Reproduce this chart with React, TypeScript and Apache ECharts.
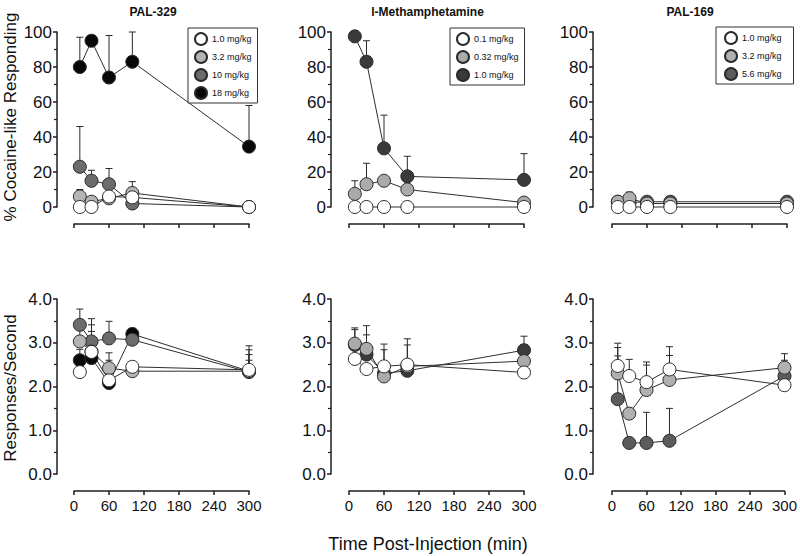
import React, { useEffect, useRef } from 'react';
import * as echarts from 'echarts';

// ---------------- data ----------------
const times = [10, 30, 60, 100, 300];
const xTickValues = [0, 60, 120, 180, 240, 300];
const panelTitles = ['PAL-329', 'l-Methamphetamine', 'PAL-169'];
const yTitleTop = '% Cocaine-like Responding';
const yTitleBottom = 'Responses/Second';
const xTitle = 'Time Post-Injection (min)';

// PAL-329
const pal329Doses = ['1.0 mg/kg', '3.2 mg/kg', '10 mg/kg', '18 mg/kg'];
const pal329Pct_1 = [0, 0, 6, 5.5, 0];
const pal329Pct_3 = [6, 3, 5, 8, 0];
const pal329Pct_10 = [23, 15, 13, 2, 0];
const pal329Pct_18 = [80, 95, 74, 83, 34.5];
const pal329PctErr_1 = [null, null, null, null, null];
const pal329PctErr_3 = [10, null, null, 14.5, null];
const pal329PctErr_10 = [46, 21, 22, null, null];
const pal329PctErr_18 = [97, null, 98, 100, 58];
const pal329Rate_1 = [2.33, 2.79, 2.14, 2.45, 2.38];
const pal329Rate_3 = [3.03, 2.8, 2.42, 2.35, 2.35];
const pal329Rate_10 = [3.41, 3.03, 3.1, 3.07, 2.33];
const pal329Rate_18 = [2.6, 2.65, 2.08, 3.2, 2.35];
const pal329RateErr_1 = [null, null, null, null, 2.6];
const pal329RateErr_3 = [3.3, 3.26, 2.77, null, 2.84];
const pal329RateErr_10 = [3.77, 3.55, 3.49, 3.2, 2.93];
const pal329RateErr_18 = [2.85, 3.41, 2.6, 3.33, 2.73];

// l-Methamphetamine
const methDoses = ['0.1 mg/kg', '0.32 mg/kg', '1.0 mg/kg'];
const methPct_01 = [0, 0, 0, 0, 0];
const methPct_032 = [7.5, 13, 15, 10, 2.5];
const methPct_1 = [97.5, 83, 33.5, 17.5, 15.5];
const methPctErr_01 = [null, null, null, null, null];
const methPctErr_032 = [15, 25, null, null, null];
const methPctErr_1 = [null, 95, 52.5, 29, 30.5];
const methRate_01 = [2.63, 2.4, 2.46, 2.5, 2.32];
const methRate_032 = [2.98, 2.86, 2.23, 2.46, 2.58];
const methRate_1 = [2.95, 2.73, 2.3, 2.36, 2.83];
const methRateErr_01 = [null, null, null, null, null];
const methRateErr_032 = [3.3, 3.39, 2.84, 3.09, 2.96];
const methRateErr_1 = [3.34, 3.18, 2.97, 2.95, 3.15];

// PAL-169
const pal169Doses = ['1.0 mg/kg', '3.2 mg/kg', '5.6 mg/kg'];
const pal169Pct_1 = [0, 0, 0, 0, 0];
const pal169Pct_3 = [3, 5, 2, 2, 2];
const pal169Pct_56 = [3, 2.5, 3, 3, 3];
const pal169PctErr_1 = [null, null, null, null, null];
const pal169PctErr_3 = [null, 8.5, null, null, null];
const pal169PctErr_56 = [null, null, null, null, null];
const pal169Rate_1 = [2.47, 2.24, 2.1, 2.39, 2.03];
const pal169Rate_3 = [2.3, 1.38, 1.92, 2.15, 2.43];
const pal169Rate_56 = [1.71, 0.71, 0.71, 0.76, 2.24];
const pal169RateErr_1 = [2.99, 2.62, 2.56, 2.91, null];
const pal169RateErr_3 = [2.89, null, 2.49, 2.71, 2.75];
const pal169RateErr_56 = [2.7, null, 1.41, 1.5, 2.6];

// ---------------- styling ----------------
const FONT = 'Liberation Sans, Arial, Helvetica, sans-serif';
const INK = '#1e1e1e';

type Group = { label: string; color: string; pct: number[]; pctErr: (number | null)[]; rate: number[]; rateErr: (number | null)[] };

const panels: { title: string; legend: { left: number; top: number; padding: number[] }; groups: Group[] }[] = [
  {
    title: panelTitles[0],
    legend: { left: 188, top: 28, padding: [4, 6, 3, 6] },
    groups: [
      { label: pal329Doses[0], color: '#ffffff', pct: pal329Pct_1, pctErr: pal329PctErr_1, rate: pal329Rate_1, rateErr: pal329RateErr_1 },
      { label: pal329Doses[1], color: '#b4b4b4', pct: pal329Pct_3, pctErr: pal329PctErr_3, rate: pal329Rate_3, rateErr: pal329RateErr_3 },
      { label: pal329Doses[2], color: '#6c6c6c', pct: pal329Pct_10, pctErr: pal329PctErr_10, rate: pal329Rate_10, rateErr: pal329RateErr_10 },
      { label: pal329Doses[3], color: '#080808', pct: pal329Pct_18, pctErr: pal329PctErr_18, rate: pal329Rate_18, rateErr: pal329RateErr_18 },
    ],
  },
  {
    title: panelTitles[1],
    legend: { left: 450, top: 28, padding: [4, 6, 3, 6] },
    groups: [
      { label: methDoses[0], color: '#ffffff', pct: methPct_01, pctErr: methPctErr_01, rate: methRate_01, rateErr: methRateErr_01 },
      { label: methDoses[1], color: '#aaaaaa', pct: methPct_032, pctErr: methPctErr_032, rate: methRate_032, rateErr: methRateErr_032 },
      { label: methDoses[2], color: '#3a3a3a', pct: methPct_1, pctErr: methPctErr_1, rate: methRate_1, rateErr: methRateErr_1 },
    ],
  },
  {
    title: panelTitles[2],
    legend: { left: 716, top: 27, padding: [4, 12, 3, 8] },
    groups: [
      { label: pal169Doses[0], color: '#ffffff', pct: pal169Pct_1, pctErr: pal169PctErr_1, rate: pal169Rate_1, rateErr: pal169RateErr_1 },
      { label: pal169Doses[1], color: '#b0b0b0', pct: pal169Pct_3, pctErr: pal169PctErr_3, rate: pal169Rate_3, rateErr: pal169RateErr_3 },
      { label: pal169Doses[2], color: '#5c5c5c', pct: pal169Pct_56, pctErr: pal169PctErr_56, rate: pal169Rate_56, rateErr: pal169RateErr_56 },
    ],
  },
];

const gridLefts = [74, 349, 612];
const gridTops = [32, 299];
const yOffsets = [17, 18, 19];
const GW = 175;
const GH = 175;

function buildOption() {
  const grid: any[] = [];
  const xAxis: any[] = [];
  const yAxis: any[] = [];
  const series: any[] = [];
  const legend: any[] = [];
  const graphic: any[] = [];

  for (let r = 0; r < 2; r++) {
    for (let c = 0; c < 3; c++) {
      const i = r * 3 + c;
      grid.push({ left: gridLefts[c], top: gridTops[r], width: GW, height: GH, containLabel: false });
      xAxis.push({
        type: 'value', gridIndex: i, min: 0, max: 300, interval: 60, offset: 17,
        axisLine: { show: true, onZero: false, lineStyle: { color: INK, width: 1.5 } },
        axisTick: { show: true, length: 4, lineStyle: { color: INK, width: 1.5 } },
        axisLabel: {
          show: r === 1, fontSize: 15, color: '#111', fontFamily: FONT, margin: 7,
          formatter: (v: number) => (xTickValues.includes(v) ? String(v) : ''),
        },
        splitLine: { show: false },
      });
      yAxis.push({
        type: 'value', gridIndex: i, min: 0, max: r === 0 ? 100 : 4, interval: r === 0 ? 20 : 1,
        offset: yOffsets[c],
        axisLine: { show: true, onZero: false, lineStyle: { color: INK, width: 1.5 } },
        axisTick: { show: true, length: 4, lineStyle: { color: INK, width: 1.5 } },
        minorTick: { show: true, splitNumber: 2, length: 3, lineStyle: { color: INK, width: 1.2 } },
        axisLabel: {
          fontSize: 17, color: '#111', fontFamily: FONT, margin: 5,
          formatter: (v: number) => (r === 0 ? String(v) : v.toFixed(1)),
        },
        splitLine: { show: false },
        minorSplitLine: { show: false },
      });

      const panel = panels[c];
      panel.groups.forEach((g) => {
        const vals = r === 0 ? g.pct : g.rate;
        const errs = r === 0 ? g.pctErr : g.rateErr;
        const name = r === 0 ? `${c}|${g.label}` : `${c}|${g.label}|rate`;
        const errData = times
          .map((t, k) => (errs[k] == null ? null : [t, vals[k], errs[k]]))
          .filter((d) => d !== null);
        series.push({
          type: 'custom', name: name + '|err', xAxisIndex: i, yAxisIndex: i, z: 1,
          silent: true, clip: false,
          encode: { x: 0, y: 1 },
          renderItem: (params: any, api: any) => {
            const x = api.value(0);
            const y = api.value(1);
            const e = api.value(2);
            const p0 = api.coord([x, y]);
            const p1 = api.coord([x, e]);
            const st = { stroke: '#2a2a2a', lineWidth: 1 };
            return {
              type: 'group',
              children: [
                { type: 'line', shape: { x1: p0[0], y1: p0[1], x2: p1[0], y2: p1[1] }, style: st },
                { type: 'line', shape: { x1: p1[0] - 3.5, y1: p1[1], x2: p1[0] + 3.5, y2: p1[1] }, style: st },
              ],
            };
          },
          data: errData,
        });
      });
      // markers: darker first so white sits on top
      [...panel.groups].reverse().forEach((g) => {
        const vals = r === 0 ? g.pct : g.rate;
        const name = r === 0 ? `${c}|${g.label}` : `${c}|${g.label}|rate`;
        series.push({
          type: 'line', name, xAxisIndex: i, yAxisIndex: i, z: 3, clip: false,
          symbol: 'circle', symbolSize: 13, showSymbol: true,
          lineStyle: { color: '#2e2e2e', width: 1 },
          itemStyle: { color: g.color, borderColor: '#2a2a2a', borderWidth: 1 },
          emphasis: { disabled: true },
          data: times.map((t, k) => [t, vals[k]]),
        });
      });
    }
  }

  panels.forEach((p, c) => {
    legend.push({
      data: p.groups.map((g) => ({ name: `${c}|${g.label}`, icon: 'circle' })),
      left: p.legend.left, top: p.legend.top, orient: 'vertical',
      itemWidth: 12, itemHeight: 12, itemGap: 4, padding: p.legend.padding,
      borderColor: '#333', borderWidth: 1, backgroundColor: '#fff',
      textStyle: { fontSize: 9, color: '#111', fontFamily: FONT },
      formatter: (n: string) => n.split('|')[1],
      selectedMode: false,
    });
    const axisStart = gridLefts[c] - yOffsets[c];
    const cx = (axisStart + gridLefts[c] + GW) / 2;
    graphic.push({
      type: 'text', x: cx, y: 12,
      style: { text: p.title, font: `bold 12px ${FONT}`, fill: '#111', textAlign: 'center', textVerticalAlign: 'middle' },
    });
  });

  graphic.push({
    type: 'text', x: 10, y: 117, rotation: Math.PI / 2,
    style: { text: yTitleTop, font: `17px ${FONT}`, fill: '#111', textAlign: 'center', textVerticalAlign: 'middle' },
  });
  graphic.push({
    type: 'text', x: 10, y: 388, rotation: Math.PI / 2,
    style: { text: yTitleBottom, font: `17px ${FONT}`, fill: '#111', textAlign: 'center', textVerticalAlign: 'middle' },
  });
  graphic.push({
    type: 'text', x: 428, y: 544,
    style: { text: xTitle, font: `18px ${FONT}`, fill: '#111', textAlign: 'center', textVerticalAlign: 'middle' },
  });

  return { animation: false, backgroundColor: '#ffffff', grid, xAxis, yAxis, series, legend, graphic };
}

export default function App() {
  const ref = useRef<HTMLDivElement>(null);
  useEffect(() => {
    const chart = echarts.init(ref.current!, null, { renderer: 'svg' });
    chart.setOption(buildOption() as any);
    return () => chart.dispose();
  }, []);
  return <div ref={ref} style={{ position: 'fixed', left: 0, top: 0, width: 800, height: 556 }} />;
}
